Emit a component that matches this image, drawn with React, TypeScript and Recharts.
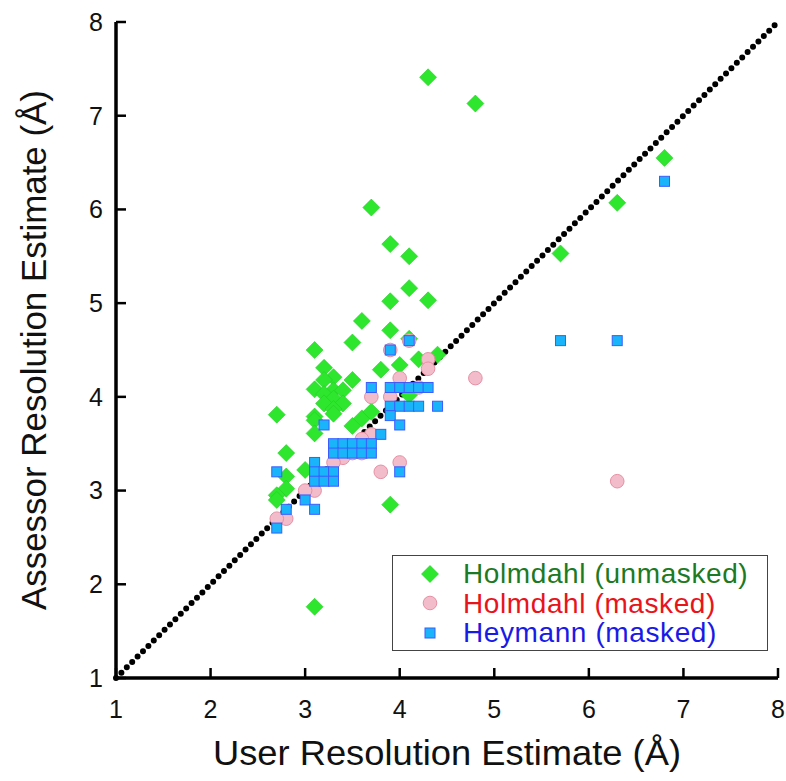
import { ScatterChart, Scatter, XAxis, YAxis, ReferenceLine, Legend } from 'recharts';

const FONT = '"Liberation Sans", Arial, Helvetica, sans-serif';

const axisTicks = [1, 2, 3, 4, 5, 6, 7, 8];

// [user estimate, assessor estimate]
const holmdahlUnmasked: [number, number][] = [
  [4.3, 7.41], [4.8, 7.13], [6.8, 6.55], [6.3, 6.07], [3.7, 6.02], [5.7, 5.53],
  [3.9, 5.63], [4.1, 5.5], [4.1, 5.16], [3.9, 5.02], [4.3, 5.03], [3.6, 4.81],
  [3.9, 4.71], [4.1, 4.62], [3.5, 4.58], [3.1, 4.5], [4.2, 4.4], [4.4, 4.45],
  [4.0, 4.34], [3.8, 4.29], [3.2, 4.31], [3.3, 4.21], [3.2, 4.18], [3.5, 4.18],
  [3.1, 4.08], [3.3, 4.07], [3.4, 4.07], [3.2, 4.03], [3.3, 3.98], [3.2, 3.93],
  [3.4, 3.93], [3.3, 3.87], [3.3, 3.82], [2.7, 3.81], [3.1, 3.79], [3.1, 3.75],
  [3.5, 3.69], [3.6, 3.77], [3.7, 3.84], [3.1, 3.61], [4.1, 4.02], [2.8, 3.4],
  [3.0, 3.22], [2.8, 3.15], [2.8, 3.02], [2.7, 2.95], [2.7, 2.9], [3.9, 2.85],
  [3.1, 1.76],
];

const holmdahlMasked: [number, number][] = [
  [3.9, 4.5], [4.1, 4.6], [4.3, 4.4], [4.3, 4.3], [4.2, 4.1], [4.0, 4.2],
  [3.7, 4.0], [3.9, 4.0], [3.7, 3.6], [3.6, 3.55], [3.5, 3.4], [3.6, 3.4],
  [3.4, 3.35], [3.3, 3.3], [3.1, 3.0], [3.0, 3.0], [2.8, 2.7], [2.7, 2.7],
  [3.8, 3.2], [4.0, 3.3], [4.8, 4.2], [6.3, 3.1],
];

const heymannMasked: [number, number][] = [
  [6.8, 6.3], [5.7, 4.6], [6.3, 4.6], [3.9, 4.5], [4.1, 4.6],
  [3.7, 4.1], [3.9, 4.1], [4.0, 4.1], [4.1, 4.1], [4.2, 4.1], [4.3, 4.1],
  [3.9, 3.9], [4.0, 3.9], [4.1, 3.9], [4.2, 3.9], [4.4, 3.9],
  [3.9, 3.8], [4.0, 3.7], [3.2, 3.7], [3.8, 3.6],
  [3.3, 3.5], [3.4, 3.5], [3.5, 3.5], [3.6, 3.5], [3.7, 3.5],
  [3.3, 3.4], [3.4, 3.4], [3.5, 3.4], [3.6, 3.4], [3.7, 3.4],
  [3.1, 3.3], [3.1, 3.2], [3.2, 3.2], [3.3, 3.2], [3.1, 3.1], [3.2, 3.1], [3.3, 3.1],
  [2.7, 3.2], [4.0, 3.2], [3.0, 2.9], [3.1, 2.8], [2.8, 2.8], [2.7, 2.6],
];

const toPoints = (pairs: [number, number][]) => pairs.map(([x, y]) => ({ x, y }));

const legendItems = [
  { name: 'Holmdahl (unmasked)', marker: 'diamond', text: '#1c7a24' },
  { name: 'Holmdahl (masked)', marker: 'circle', text: '#e8141c' },
  { name: 'Heymann (masked)', marker: 'square', text: '#1a1ae6' },
];

const Diamond = (p: any) => {
  const { cx, cy } = p;
  const r = 8.5;
  return (
    <polygon
      points={`${cx},${cy - r} ${cx + r},${cy} ${cx},${cy + r} ${cx - r},${cy}`}
      fill="#2de62d"
      stroke="#25cf25"
      strokeWidth={0.6}
    />
  );
};

const Dot = (p: any) => (
  <circle cx={p.cx} cy={p.cy} r={6.8} fill="#f3bccb" stroke="#e690a3" strokeWidth={1} />
);

const Square = (p: any) => (
  <rect x={p.cx - 5} y={p.cy - 5} width={10} height={10} fill="#1ab4fb" stroke="#3b5cff" strokeWidth={1} />
);

const markerIcon = (kind: string) => {
  if (kind === 'diamond') return <Diamond cx={9} cy={9} />;
  if (kind === 'circle') return <Dot cx={9} cy={9} />;
  return <Square cx={9} cy={9} />;
};

const renderLegend = () => (
  <div
    style={{
      border: '1.5px solid #444',
      background: '#fff',
      padding: '3px 6px 3px 28px',
      fontFamily: FONT,
      fontSize: 28,
      lineHeight: '29.5px',
      letterSpacing: 0.6,
      boxSizing: 'border-box',
      width: 376,
      height: 96,
      whiteSpace: 'nowrap',
    }}
  >
    {legendItems.map((it) => (
      <div key={it.name} style={{ display: 'flex', alignItems: 'center', height: 29.5 }}>
        <svg width={18} height={18} style={{ marginRight: 24 }}>
          {markerIcon(it.marker)}
        </svg>
        <span style={{ color: it.text }}>{it.name}</span>
      </div>
    ))}
  </div>
);

export default function App() {
  return (
    <div style={{ position: 'absolute', left: 0, top: 0, background: '#fff' }}>
      <ScatterChart width={786} height={781} margin={{ top: 22, right: 8, bottom: 73, left: 56 }}>
        <XAxis
          type="number"
          dataKey="x"
          domain={[1, 8]}
          ticks={axisTicks}
          allowDataOverflow
          height={30}
          axisLine={{ stroke: '#000', strokeWidth: 3.5 }}
          tickLine={{ stroke: '#000', strokeWidth: 2.5 }}
          tickSize={-10}
          tickMargin={32}
          tick={{ fill: '#111', fontSize: 25, fontFamily: FONT }}
          label={{
            content: (props: any) => {
              const vb = props.viewBox;
              return (
                <text
                  x={vb.x + vb.width / 2}
                  y={765}
                  textAnchor="middle"
                  fontSize={35}
                  fontFamily={FONT}
                  fill="#111"
                  textLength={468}
                  lengthAdjust="spacingAndGlyphs"
                >
                  User Resolution Estimate (Å)
                </text>
              );
            },
          }}
        />
        <YAxis
          type="number"
          dataKey="y"
          domain={[1, 8]}
          ticks={axisTicks}
          allowDataOverflow
          width={60}
          axisLine={{ stroke: '#000', strokeWidth: 3.5 }}
          tickLine={{ stroke: '#000', strokeWidth: 2.5 }}
          tickSize={-10}
          tickMargin={23}
          tick={{ fill: '#111', fontSize: 25, fontFamily: FONT }}
          label={{
            content: (props: any) => {
              const vb = props.viewBox;
              const cy = vb.y + vb.height / 2;
              return (
                <text
                  x={46}
                  y={cy}
                  transform={`rotate(-90 46 ${cy})`}
                  textAnchor="middle"
                  fontSize={35}
                  fontFamily={FONT}
                  fill="#111"
                  textLength={520}
                  lengthAdjust="spacingAndGlyphs"
                >
                  Assessor Resolution Estimate (Å)
                </text>
              );
            },
          }}
        />
        <Scatter
          name="Holmdahl (unmasked)"
          data={toPoints(holmdahlUnmasked)}
          shape={Diamond}
          isAnimationActive={false}
        />
        <Scatter
          name="Holmdahl (masked)"
          data={toPoints(holmdahlMasked)}
          shape={Dot}
          isAnimationActive={false}
        />
        <Scatter
          name="Heymann (masked)"
          data={toPoints(heymannMasked)}
          shape={Square}
          isAnimationActive={false}
        />
        <ReferenceLine
          segment={[{ x: 1, y: 1 }, { x: 8, y: 8 }]}
          stroke="#000"
          strokeWidth={6}
          strokeDasharray="0 7.6"
          strokeLinecap="round"
        />
        <Legend
          layout="vertical"
          verticalAlign="middle"
          align="center"
          content={renderLegend}
          wrapperStyle={{ position: 'absolute', left: 392, top: 555, width: 376, height: 96 }}
        />
      </ScatterChart>
    </div>
  );
}
